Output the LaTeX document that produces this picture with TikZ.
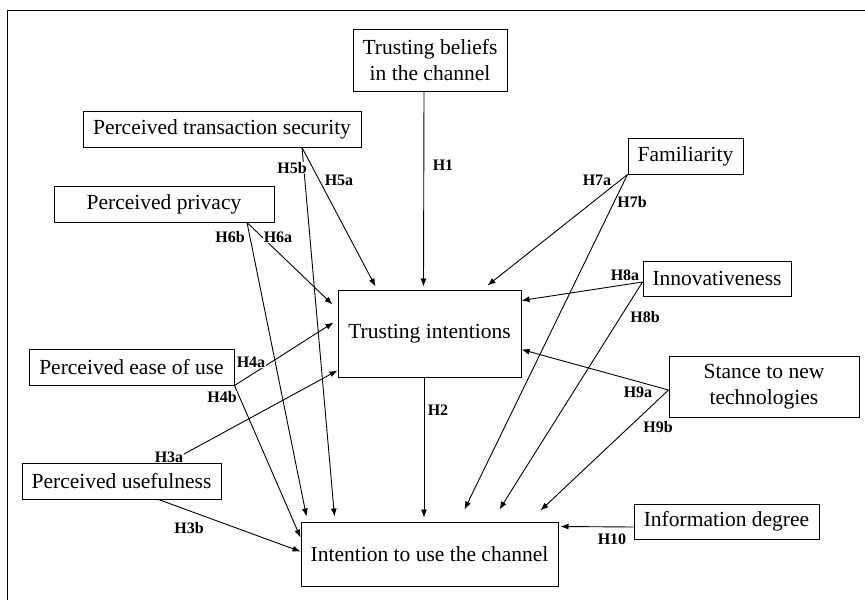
\documentclass[tikz,border=0pt]{standalone}
\usepackage{fontspec}
\setmainfont{Liberation Serif}
\usepackage{tikz}
\usetikzlibrary{arrows.meta}

\begin{document}
\begin{tikzpicture}[x=1pt, y=-1pt, line width=0.9pt,
    font=\fontsize{21.5}{26}\selectfont,
    factor/.style={draw, line width=1pt, inner sep=0pt, align=center, minimum height=36pt},
    hyp/.style={fill=white, inner sep=0.5pt, font=\fontsize{16}{18}\selectfont\bfseries},
    link/.style={-{Latex[length=8pt,width=6pt]}}]
  \useasboundingbox (0,0) rectangle (865,600);
  \draw[line width=1pt] (7,600) -- (7,10) -- (865,10);

  \node[factor, minimum width=154pt, minimum height=62pt] (beliefs) at (430,60) {Trusting beliefs\\in the channel};
  \node[factor, minimum width=278pt] (security) at (222,129) {Perceived transaction security};
  \node[factor, minimum width=220pt] (privacy) at (164,204) {Perceived privacy};
  \node[factor, minimum width=115pt] (famil) at (685.5,156) {Familiarity};
  \node[factor, minimum width=148pt, minimum height=35pt] (innov) at (717,278.5) {Innovativeness};
  \node[factor, minimum width=183pt, minimum height=87pt] (intent) at (429.5,333.5) {Trusting intentions};
  \node[factor, minimum width=205pt] (ease) at (131.5,367) {Perceived ease of use};
  \node[factor, minimum width=199pt] (useful) at (121.5,481) {Perceived usefulness};
  \node[factor, minimum width=257pt, minimum height=64pt] (use) at (429.5,554) {Intention to use the channel};
  \node[factor, minimum width=190pt, minimum height=61pt] (stance) at (764,386.5) {Stance to new\\technologies};
  \node[factor, minimum width=185pt, minimum height=35pt] (info) at (726.5,521.5) {Information degree};

  \draw[link] ([xshift=-6pt]beliefs.south) -- ([xshift=-6pt,yshift=3pt]intent.north);
  \draw[link] ([xshift=-5.5pt]intent.south) -- ([xshift=-5.5pt,yshift=4pt]use.north);
  \draw[link] ([xshift=80pt]security.south) -- ([xshift=38pt,yshift=3pt]intent.north west);
  \draw[link] ([xshift=80pt]security.south) -- ([xshift=34pt,yshift=5pt]use.north west);
  \draw[link] ([xshift=83pt]privacy.south) -- ([xshift=-5pt,yshift=-15pt]intent.north west);
  \draw[link] ([xshift=83pt]privacy.south) -- ([xshift=6pt,yshift=5pt]use.north west);
  \draw[link] (ease.south east) -- ([xshift=-4pt,yshift=-33pt]intent.north west);
  \draw[link] (ease.south east) -- ([yshift=-16pt]use.north west);
  \draw[link] ([xshift=47pt]useful.north) -- ([yshift=7pt]intent.south west);
  \draw[link] ([xshift=37pt]useful.south) -- ([yshift=-30pt]use.north west);
  \draw[link] (famil.south west) -- ([xshift=-34pt,yshift=4pt]intent.north east);
  \draw[link] (famil.south west) -- ([xshift=35pt,yshift=12pt]use.north);
  \draw[link] ([yshift=-3.5pt]innov.west) -- ([yshift=-11pt]intent.north east);
  \draw[link] ([yshift=-3.5pt]innov.west) -- ([xshift=70pt,yshift=12pt]use.north);
  \draw[link] ([yshift=-3.5pt]stance.west) -- ([yshift=-16pt]intent.east);
  \draw[link] ([yshift=-3.5pt]stance.west) -- ([xshift=-18pt,yshift=11pt]use.north east);
  \draw[link] ([yshift=-5.5pt]info.west) -- ([xshift=2pt,yshift=-5pt]use.north east);

  \node[hyp] (h1) at (443,165) {H1};
  \node[hyp] (h2) at (438,410) {H2};
  \node[hyp] (h3a) at (169,457) {H3a};
  \node[hyp] (h3b) at (189,528) {H3b};
  \node[hyp] (h4a) at (251,362) {H4a};
  \node[hyp] (h4b) at (222,397) {H4b};
  \node[hyp] (h5a) at (339,180) {H5a};
  \node[hyp] (h5b) at (292,168) {H5b};
  \node[hyp] (h6a) at (278,237) {H6a};
  \node[hyp] (h6b) at (230,237) {H6b};
  \node[hyp] (h7a) at (597,180) {H7a};
  \node[hyp] (h7b) at (632,202) {H7b};
  \node[hyp] (h8a) at (625,275) {H8a};
  \node[hyp] (h8b) at (645,317) {H8b};
  \node[hyp] (h9a) at (638,392) {H9a};
  \node[hyp] (h9b) at (658,427) {H9b};
  \node[hyp] (h10) at (612,539) {H10};
\end{tikzpicture}
\end{document}
